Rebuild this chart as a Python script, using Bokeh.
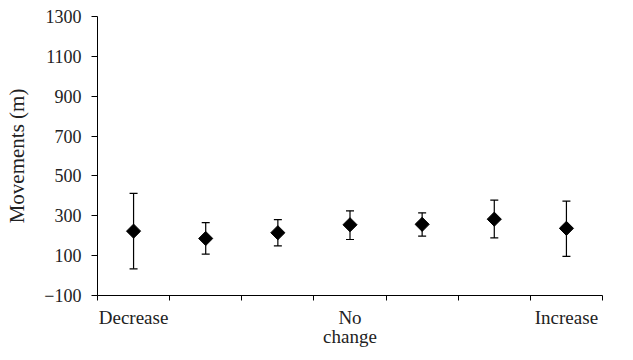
import numpy as np
from bokeh.plotting import figure
from bokeh.models import (ColumnDataSource, Whisker, TeeHead, FixedTicker, Range1d)
from bokeh.embed import file_html
from bokeh.resources import INLINE

categories = ["Decrease", "", "", "No\nchange", "", "", "Increase"]
means = [223, 186, 215, 255, 257, 283, 237]
upper = [412, 266, 281, 325, 315, 379, 374]
lower = [34, 108, 149, 181, 198, 189, 96]
y_ticks = [-100, 100, 300, 500, 700, 900, 1100, 1300]

xs = [i + 0.5 for i in range(len(means))]
src = ColumnDataSource(dict(x=xs, y=means, upper=upper, lower=lower))

FONT = "Liberation Serif"

p = figure(width=633, height=360, output_backend="svg", toolbar_location=None,
           x_range=Range1d(0, len(means)), y_range=Range1d(-100, 1300),
           min_border_left=97, min_border_right=31, min_border_top=16, min_border_bottom=65)
p.outline_line_color = None
p.xgrid.visible = False
p.ygrid.visible = False

w = Whisker(source=src, base="x", upper="upper", lower="lower", dimension="height",
            line_color="black", line_width=1.2,
            upper_head=TeeHead(size=8, line_color="black", line_width=1.2),
            lower_head=TeeHead(size=8, line_color="black", line_width=1.2))
p.add_layout(w)
p.scatter("x", "y", source=src, marker="square", angle=np.pi / 4, size=10,
          fill_color="black", line_color="black")

# x axis
label_pos = [xs[i] for i, c in enumerate(categories) if c]
p.xaxis.ticker = FixedTicker(ticks=label_pos, minor_ticks=list(range(len(means) + 1)))
p.xaxis.major_label_overrides = {xs[i]: c for i, c in enumerate(categories) if c}
p.xaxis.major_tick_out = 0
p.xaxis.major_tick_in = 0
p.xaxis.minor_tick_out = 5
p.xaxis.minor_tick_in = 0
p.xaxis.minor_tick_line_color = "black"
p.xaxis.axis_line_color = "black"
p.xaxis.major_label_text_font = FONT
p.xaxis.major_label_text_font_size = "19px"
p.xaxis.major_label_text_color = "#222222"
p.xaxis.major_label_text_line_height = 0.95
p.xaxis.major_label_standoff = 6

# y axis
p.yaxis.ticker = FixedTicker(ticks=y_ticks, minor_ticks=[])
p.yaxis.major_label_overrides = {-100: "\u2212100"}
p.yaxis.major_tick_out = 6
p.yaxis.major_tick_in = 0
p.yaxis.major_tick_line_color = "black"
p.yaxis.axis_line_color = "black"
p.yaxis.major_label_text_font = FONT
p.yaxis.major_label_text_font_size = "18px"
p.yaxis.major_label_text_color = "#222222"
p.yaxis.major_label_standoff = 10
p.yaxis.axis_label = "Movements (m)"
p.yaxis.axis_label_text_font = FONT
p.yaxis.axis_label_text_font_style = "normal"
p.yaxis.axis_label_text_font_size = "21px"
p.yaxis.axis_label_text_color = "#222222"
p.yaxis.axis_label_standoff = 12

open("out.html", "w").write(file_html(p, INLINE))
